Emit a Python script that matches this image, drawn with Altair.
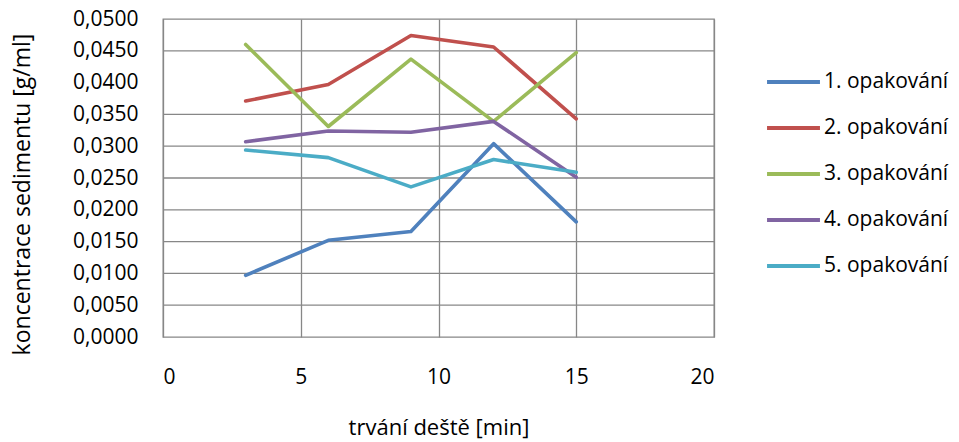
import altair as alt
import pandas as pd

# rain duration [min]
durations = [3, 6, 9, 12, 15]

# sediment concentration [g/ml] for each repetition
rep1 = [0.0097, 0.0152, 0.0166, 0.0304, 0.0181]
rep2 = [0.0371, 0.0397, 0.0474, 0.0456, 0.0343]
rep3 = [0.0460, 0.0331, 0.0437, 0.0339, 0.0447]
rep4 = [0.0307, 0.0324, 0.0322, 0.0339, 0.0251]
rep5 = [0.0294, 0.0282, 0.0236, 0.0279, 0.0259]

series_names = ["1. opakování", "2. opakování", "3. opakování", "4. opakování", "5. opakování"]
series_values = [rep1, rep2, rep3, rep4, rep5]
series_colors = ["#4F81BD", "#C0504D", "#9BBB59", "#8064A2", "#4BACC6"]

y_ticks = [0.0, 0.005, 0.010, 0.015, 0.020, 0.025, 0.030, 0.035, 0.040, 0.045, 0.050]
y_grid = [0.005, 0.010, 0.015, 0.020, 0.025, 0.030, 0.035, 0.045]
x_ticks = [0, 5, 10, 15, 20]

rows = []
for name, vals in zip(series_names, series_values):
    for t, v in zip(durations, vals):
        rows.append({"serie": name, "t": t, "c": v})
df = pd.DataFrame(rows)
grid_df = pd.DataFrame({"c": y_grid})

FONT = "Open Sans"
GRID = "#878787"

x_scale = alt.Scale(domain=[0, 20], nice=False)
y_scale = alt.Scale(domain=[0, 0.05], nice=False)

y_enc = alt.Y(
    "c:Q",
    scale=y_scale,
    axis=alt.Axis(
        values=y_ticks,
        title="koncentrace sedimentu [g/ml]",
        grid=False,
        ticks=False,
        domain=False,
        labelPadding=25,
        labelFontSize=21,
        labelColor="#000000",
        labelFont=FONT,
        labelExpr="replace(format(datum.value, '.4f'), '.', ',')",
        titleFont=FONT,
        titleFontSize=23,
        titleFontWeight="normal",
        titleColor="#000000",
        titleX=-129,
        titleY=175,
    ),
)

lines = alt.Chart(df).mark_line(strokeWidth=3.6, strokeCap="round", strokeJoin="round").encode(
    x=alt.X(
        "t:Q",
        scale=x_scale,
        axis=alt.Axis(
            values=x_ticks,
            title="trvání deště [min]",
            grid=True,
            gridColor=GRID,
            gridWidth=1.3,
            gridOpacity=1,
            ticks=False,
            domain=False,
            labelPadding=29,
            labelFontSize=21,
            labelColor="#000000",
            labelFont=FONT,
            titleFont=FONT,
            titleFontSize=22,
            titleFontWeight="normal",
            titleColor="#000000",
            titlePadding=30,
        ),
    ),
    y=y_enc,
    color=alt.Color(
        "serie:N",
        scale=alt.Scale(domain=series_names, range=series_colors),
        legend=alt.Legend(
            title=None,
            orient="none",
            legendX=602,
            legendY=53,
            symbolType="stroke",
            symbolSize=2800,
            symbolStrokeWidth=4,
            clipHeight=20,
            rowPadding=25,
            labelOffset=2,
            labelFontSize=21,
            labelFont=FONT,
            labelColor="#000000",
            padding=0,
        ),
    ),
)

# horizontal grid lines drawn beneath the series
grid = alt.Chart(grid_df).mark_rule(color=GRID, strokeWidth=1.3).encode(y=y_enc)

chart = (
    alt.layer(grid, lines)
    .properties(
        width=551,
        height=318,
        autosize=alt.AutoSizeParams(type="none"),
        padding={"left": 163, "top": 19, "right": 245, "bottom": 105},
        background="#FFFFFF",
    )
    .configure_view(stroke=GRID, strokeWidth=1.3)
)

chart.save("out.html", embed_options={"renderer": "svg", "actions": False})
